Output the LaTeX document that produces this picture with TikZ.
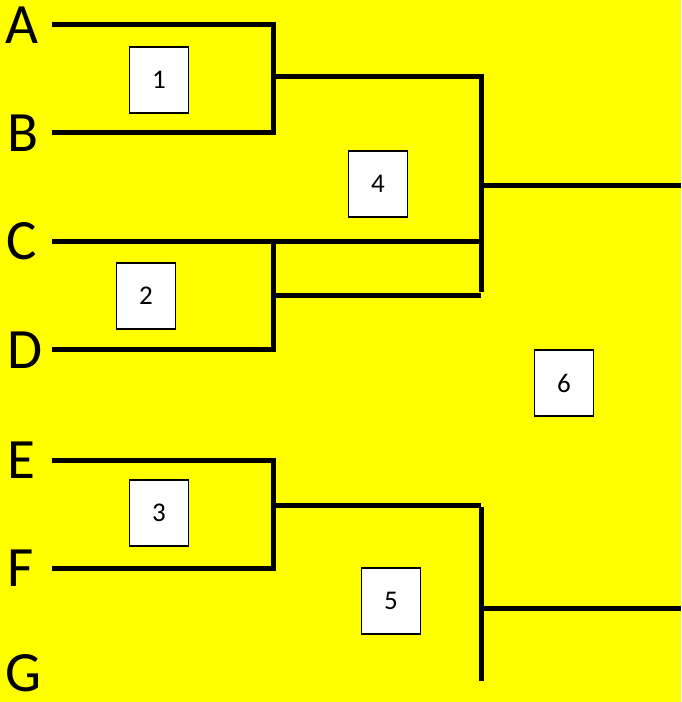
\documentclass[tikz,border=0pt]{standalone}
\usepackage{fontspec}
\setmainfont{Carlito}
\usetikzlibrary{positioning}
\definecolor{sheet}{RGB}{255,255,0}

\begin{document}
\begin{tikzpicture}[x=1pt,y=-1pt]
\tikzset{
  teamlabel/.style={anchor=west,inner sep=0pt,font=\fontsize{57}{57}\selectfont},
  gamebox/.style={draw=black,fill=white,line width=1.4pt,minimum width=59pt,minimum height=66pt,inner sep=0pt,font=\fontsize{27}{27}\selectfont},
  bracket/.style={draw=black,line width=5pt,line cap=butt,line join=miter}
}
\fill[sheet] (0,0) rectangle (681,702);
\useasboundingbox (0,0) rectangle (681,702);
% team names
\node[teamlabel] (t_A) at (5,25) {A};
\node[teamlabel] (t_B) at (7,133) {B};
\node[teamlabel] (t_C) at (6,241) {C};
\node[teamlabel] (t_D) at (7,350) {D};
\node[teamlabel] (t_E) at (7,460) {E};
\node[teamlabel] (t_F) at (7,568) {F};
\node[teamlabel] (t_G) at (5,673) {G};
% line ends
\coordinate (s_A) at (52,24);
\coordinate (s_B) at (52,132);
\coordinate (s_C) at (52,241);
\coordinate (s_D) at (52,349);
\coordinate (s_E) at (52,460);
\coordinate (s_F) at (52,568);
\coordinate (c_A) at (273,24);
\coordinate (c_B) at (273,132);
\coordinate (c_C) at (273,241);
\coordinate (c_D) at (273,349);
\coordinate (c_E) at (273,460);
\coordinate (c_F) at (273,568);
\coordinate (w_1) at (273,76);
\coordinate (w_2) at (273,295);
\coordinate (w_3) at (273,505);
\coordinate (r_1) at (481,76);
\coordinate (r_C) at (481,241);
\coordinate (r_2) at (481,295);
\coordinate (r_4) at (481,185);
\coordinate (o_4) at (681,185);
\coordinate (r_3) at (481,505);
\coordinate (r_5) at (481,608);
\coordinate (b_5) at (481,681);
\coordinate (o_5) at (681,608);
% games
\node[gamebox] (g_1) at (159,80) {1};
\node[gamebox] (g_2) at (146,296) {2};
\node[gamebox] (g_3) at (159,513) {3};
\node[gamebox] (g_4) at (378,184) {4};
\node[gamebox] (g_5) at (391,601) {5};
\node[gamebox] (g_6) at (564,383) {6};
% brackets
\draw[bracket] (s_A) -- (c_A) -- (c_B) -- (s_B);
\draw[bracket] (s_C) -- (r_C);
\draw[bracket] (c_C) -- (c_D) -- (s_D);
\draw[bracket] (s_E) -- (c_E) -- (c_F) -- (s_F);
\draw[bracket] (w_1) -- (r_1) -- ([yshift=3pt]r_2);
\draw[bracket] (w_2) -- (r_2);
\draw[bracket] (r_4) -- (o_4);
\draw[bracket] (w_3) -- (r_3);
\draw[bracket] ([yshift=-2pt]r_3) -- (b_5);
\draw[bracket] (r_5) -- (o_5);
\end{tikzpicture}
\end{document}
